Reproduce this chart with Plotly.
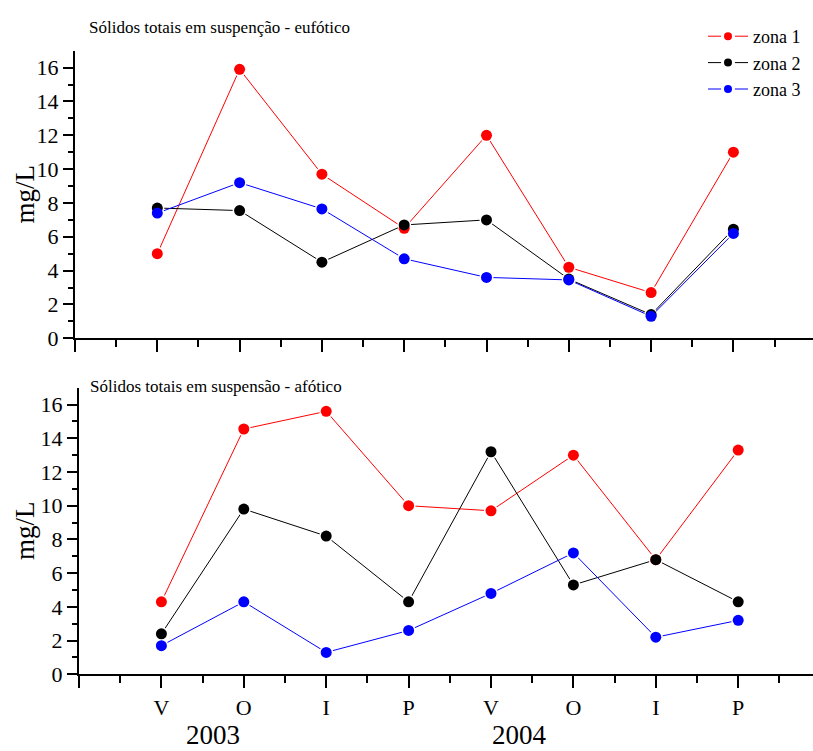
import plotly.graph_objects as go

# Seasonal sampling campaigns (2003 and 2004)
seasons = ["V", "O", "I", "P", "V", "O", "I", "P"]
years = ["2003", "2004"]
zones = ["zona 1", "zona 2", "zona 3"]
colors = ["#ff0000", "#000000", "#0000ff"]

# Total suspended solids (mg/L), euphotic layer
eufotico_z1 = [5.0, 15.9, 9.7, 6.5, 12.0, 4.2, 2.7, 11.0]
eufotico_z2 = [7.7, 7.55, 4.5, 6.7, 7.0, 3.5, 1.4, 6.45]
eufotico_z3 = [7.4, 9.2, 7.65, 4.7, 3.6, 3.45, 1.3, 6.2]

# Total suspended solids (mg/L), aphotic layer
afotico_z1 = [4.3, 14.55, 15.6, 10.0, 9.7, 13.0, 6.8, 13.3]
afotico_z2 = [2.4, 9.8, 8.2, 4.3, 13.2, 5.3, 6.8, 4.3]
afotico_z3 = [1.7, 4.3, 1.3, 2.6, 4.8, 7.2, 2.2, 3.2]

panel_titles = ["Sólidos totais em suspenção - eufótico",
                "Sólidos totais em suspensão - afótico"]

W, H = 813, 751
FONT = "Liberation Serif"
MSIZE = 11
xpos = list(range(len(seasons)))

fig = go.Figure()

panels = [
    ([eufotico_z1, eufotico_z2, eufotico_z3], "x", "y", True),
    ([afotico_z1, afotico_z2, afotico_z3], "x2", "y2", False),
]
for series, xa, ya, show in panels:
    # lines with a white halo around each point, so the segments stop short of the dots
    for name, col, vals in zip(zones, colors, series):
        fig.add_trace(go.Scatter(
            x=xpos, y=vals, name=name, mode="lines+markers",
            xaxis=xa, yaxis=ya, showlegend=show, legendgroup=name,
            line=dict(color=col, width=1),
            marker=dict(color=col, size=MSIZE, line=dict(color="white", width=3)),
        ))
    # solid dots on top, so overlapping points show no halo between them
    for name, col, vals in zip(zones, colors, series):
        fig.add_trace(go.Scatter(
            x=xpos, y=vals, name=name, mode="markers",
            xaxis=xa, yaxis=ya, showlegend=False, legendgroup=name,
            marker=dict(color=col, size=MSIZE, line=dict(width=0)),
        ))

def px_x(p):
    return p / W

def px_y(p):
    return 1 - p / H

# pixel geometry of the two panels
top = dict(x0=75, y0=50.7, y1=338.3, step=82.3)
bot = dict(x0=79, y0=387.7, y1=674.3, step=82.4)

axis_common = dict(
    showgrid=False, zeroline=False, showline=True, linecolor="black",
    linewidth=2, ticks="outside", tickcolor="black", tickwidth=2,
    tickfont=dict(family=FONT, size=22, color="black"),
)

major_x = list(range(-1, 9))
minor_x = [v + 0.5 for v in range(-1, 8)]

for key, g, labels in (("", top, False), ("2", bot, True)):
    xr = [-1, (W - g["x0"]) / g["step"] - 1]
    fig.layout["xaxis" + key] = dict(
        axis_common,
        domain=[px_x(g["x0"]), 1], range=xr,
        anchor="y" + key,
        tickmode="array", tickvals=major_x,
        ticktext=([""] + seasons + [""]) if labels else [""] * len(major_x),
        ticklen=12,
        minor=dict(tickmode="array", tickvals=minor_x, ticklen=7,
                   ticks="outside", tickcolor="black", tickwidth=2),
    )
    fig.layout["yaxis" + key] = dict(
        axis_common,
        domain=[px_y(g["y1"]), px_y(g["y0"])], range=[0, 17],
        anchor="x" + key,
        tickmode="array", tickvals=list(range(0, 17, 2)),
        ticklen=10,
        minor=dict(tickmode="array", tickvals=list(range(1, 17, 2)), ticklen=5,
                   ticks="outside", tickcolor="black", tickwidth=2),
    )

annotations = [
    dict(text=panel_titles[0], x=px_x(87), y=px_y(27), xref="paper", yref="paper",
         xanchor="left", yanchor="middle", showarrow=False,
         font=dict(family=FONT, size=17, color="black")),
    dict(text=panel_titles[1], x=px_x(88), y=px_y(387), xref="paper", yref="paper",
         xanchor="left", yanchor="middle", showarrow=False,
         font=dict(family=FONT, size=17, color="black")),
]
for g in (top, bot):
    annotations.append(dict(
        text="mg/L", x=px_x(25), y=px_y((g["y0"] + g["y1"]) / 2),
        xref="paper", yref="paper", xanchor="center", yanchor="middle",
        textangle=-90, showarrow=False,
        font=dict(family=FONT, size=27, color="black")))

for yr, xv in zip(years, [0.63, 4.34]):
    annotations.append(dict(
        text=yr, x=xv, y=px_y(735), xref="x2", yref="paper",
        xanchor="center", yanchor="middle", showarrow=False,
        font=dict(family=FONT, size=27, color="black")))

fig.update_layout(
    width=W, height=H,
    margin=dict(l=0, r=0, t=0, b=0, pad=0, autoexpand=False),
    paper_bgcolor="white", plot_bgcolor="white",
    annotations=annotations,
    legend=dict(x=px_x(703), y=px_y(18), xanchor="left", yanchor="top",
                font=dict(family=FONT, size=18, color="black"),
                bgcolor="rgba(0,0,0,0)", tracegroupgap=0, itemwidth=40),
)

fig.write_html("out.html")
